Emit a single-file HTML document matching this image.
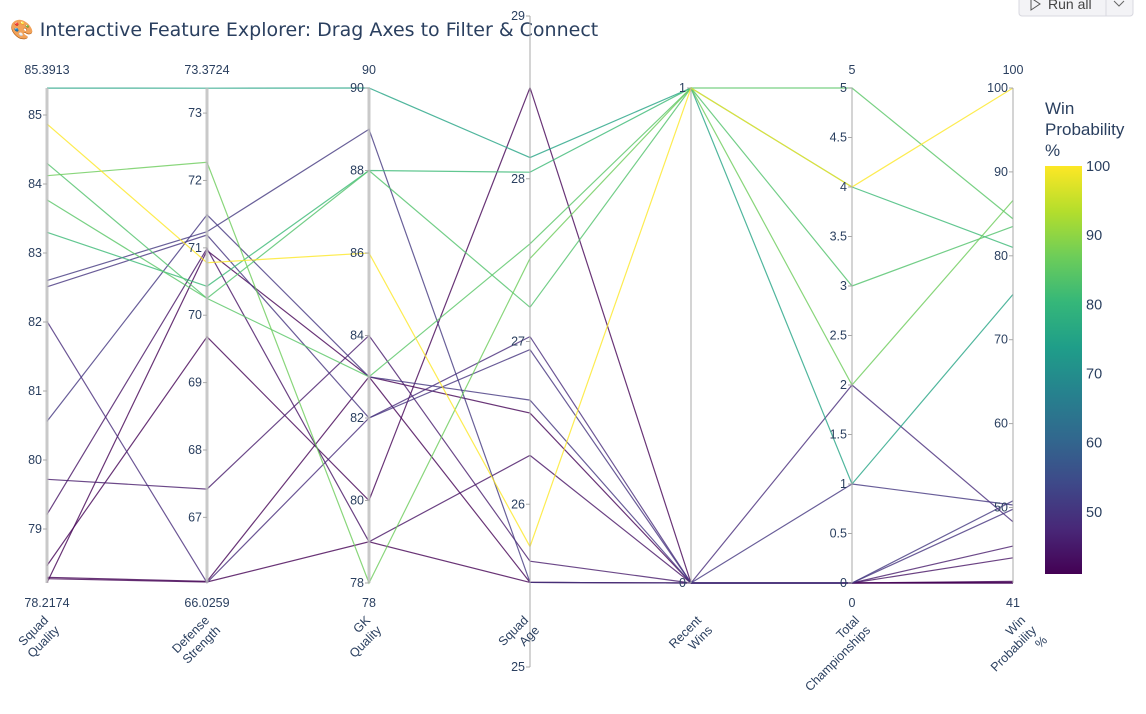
<!DOCTYPE html>
<html><head><meta charset="utf-8"><style>
body{margin:0;background:#fff;width:1146px;height:709px;overflow:hidden;font-family:"Liberation Sans","DejaVu Sans",sans-serif}
svg text{font-family:"Liberation Sans","DejaVu Sans",sans-serif;fill:#2a3f5f}
</style></head><body>
<svg id="chart" width="1146" height="709" xmlns="http://www.w3.org/2000/svg">
<text x="10" y="36" style="font-size:19px;font-family:'DejaVu Sans',sans-serif">🎨 Interactive Feature Explorer: Drag Axes to Filter &amp; Connect</text>
<g>
<rect x="1019" y="-6" width="114" height="22" rx="3" fill="#f3f3f6" stroke="#d8d8e0"/>
<path d="M1031 -2 L1040 4 L1031 10 Z" fill="none" stroke="#555"/>
<text x="1048" y="9" style="font-size:14px;fill:#444">Run all</text>
<line x1="1106" y1="-6" x2="1106" y2="16" stroke="#d8d8e0"/>
<path d="M1114 1 L1119 6 L1124 1" fill="none" stroke="#666"/>
</g>
<g id="lines"></g>
<g id="axes"></g>
<g id="cbar"></g>
</svg>
<script>
const squadQuality=[84.87,85.39,84.12,84.30,83.77,83.30,82.60,82.51,82.01,80.56,79.72,79.21,78.47,78.30,78.22,78.28];
const defenseStrength=[70.78,73.37,72.27,70.25,70.25,70.43,71.24,71.19,66.03,71.49,67.42,70.99,69.68,66.05,70.96,66.04];
const gkQuality=[86,90,78,88,83,88,89,82,82,83,84,79,80,83,83,79];
const squadAge=[25.74,28.13,27.51,27.21,27.60,28.04,25.52,26.95,27.03,26.64,25.65,26.30,28.56,26.56,25.52,25.52];
const recentWins=[1,1,1,1,1,1,0,0,0,0,0,0,0,0,0,0];
const championships=[4,1,2,3,5,4,0,0,2,1,0,0,0,0,0,0];
const winProb=[100,75.4,86.6,83.5,84.4,81.0,50.8,49.8,48.3,50.3,45.4,44.0,41.2,41.1,41,41];
const axisNames=[["Squad","Quality"],["Defense","Strength"],["GK","Quality"],["Squad","Age"],["Recent","Wins"],["Total","Championships"],["Win","Probability","%"]];
const axisTicks=[[79,80,81,82,83,84,85],[67,68,69,70,71,72,73],[78,80,82,84,86,88,90],[25,26,27,28,29],[0,1],[0,0.5,1,1.5,2,2.5,3,3.5,4,4.5,5],[50,60,70,80,90,100]];
const rangeLabels=[["85.3913","78.2174"],["73.3724","66.0259"],["90","78"],null,null,["5","0"],["100","41"]];
const domains=[[78.2174,85.3913],[66.0259,73.3724],[78,90],[25,29],[0,1],[0,5],[41,100]];
const series=[squadQuality,defenseStrength,gkQuality,squadAge,recentWins,championships,winProb];
const axisX=[47,207,369,530,691,852,1013];
const TOP=88,BOT=583;
function yScale(i,v){
  if(i===3) return 667-(v-25)*(651/4);
  const d=domains[i];return BOT-(v-d[0])/(d[1]-d[0])*(BOT-TOP);
}
const vir=[[68,1,84],[72,40,120],[62,73,137],[49,104,142],[38,130,142],[31,158,137],[53,183,121],[109,205,89],[180,222,44],[253,231,37]];
function color(v){
  let t=(v-41)/(100-41);t=Math.max(0,Math.min(1,t));
  const p=t*(vir.length-1),k=Math.min(Math.floor(p),vir.length-2),f=p-k;
  const c=vir[k].map((a,j)=>Math.round(a+(vir[k+1][j]-a)*f));
  return `rgb(${c[0]},${c[1]},${c[2]})`;
}
const NS="http://www.w3.org/2000/svg";
function mk(tag,attrs,parent){const e=document.createElementNS(NS,tag);for(const k in attrs)e.setAttribute(k,attrs[k]);parent.appendChild(e);return e;}
const lg=document.getElementById('lines');
const order=winProb.map((v,i)=>i).sort((a,b)=>winProb[a]-winProb[b]);
order.forEach(r=>{
  const pts=axisX.map((x,i)=>x+','+yScale(i,series[i][r]).toFixed(1)).join(' ');
  const pl=mk('polyline',{points:pts,fill:'none',stroke:color(winProb[r]),'stroke-width':1.2,'stroke-opacity':0.8},lg);
  
  
});
const ag=document.getElementById('axes');
axisX.forEach((x,i)=>{
  const g=mk('g',{},ag);
  
  
  const y1=i===3?16:TOP,y2=i===3?667:BOT;
  mk('line',{x1:x,x2:x,y1:y1,y2:y2,stroke:i<3?'#bbb':'#aaa','stroke-width':i<3?3:1,'stroke-opacity':i<3?0.8:1},g);
  axisTicks[i].forEach(t=>{
    const y=yScale(i,t);
    mk('line',{x1:x-4,x2:x,y1:y,y2:y,stroke:'#aaa'},g);
    const tx=mk('text',{x:x-5,y:y+4,'text-anchor':'end','font-size':12.5},g);tx.textContent=t;
    
    
  });
  if(rangeLabels[i]){
    const a=mk('text',{x:x,y:74,'text-anchor':'middle','font-size':12.5},g);a.textContent=rangeLabels[i][0];
    
    
    const b=mk('text',{x:x,y:607,'text-anchor':'middle','font-size':12.5},g);b.textContent=rangeLabels[i][1];
    
    
  }
  const off=[2,3,2,-1,11,8,13][i];
  axisNames[i].forEach((s,j)=>{
    const ex=x+off+11*j,ey=621+10*j;
    const t=mk('text',{x:ex,y:ey,'text-anchor':'end','font-size':12.5,transform:`rotate(-45 ${ex} ${ey})`},g);
    t.textContent=s;
    
    
  });
});
const cb=document.getElementById('cbar');
const defs=mk('defs',{},cb);
const grad=mk('linearGradient',{id:'vg',x1:0,y1:1,x2:0,y2:0},defs);
vir.forEach((c,k)=>mk('stop',{offset:k/(vir.length-1),'stop-color':`rgb(${c})`},grad));
const ct=mk('text',{x:1045,y:114,'font-size':17},cb);
['Win','Probability','%'].forEach((s,j)=>{const ts=mk('tspan',{x:1045,dy:j?21:0},ct);ts.textContent=s;});


const bar=mk('rect',{x:1045,y:166,width:37,height:408,fill:'url(#vg)'},cb);


[50,60,70,80,90,100].forEach(v=>{
  const y=574-(v-41)/(59)*408;
  const t=mk('text',{x:1086,y:y+5,'font-size':14.5},cb);t.textContent=v;
  
  
});
</script>
</body></html>
